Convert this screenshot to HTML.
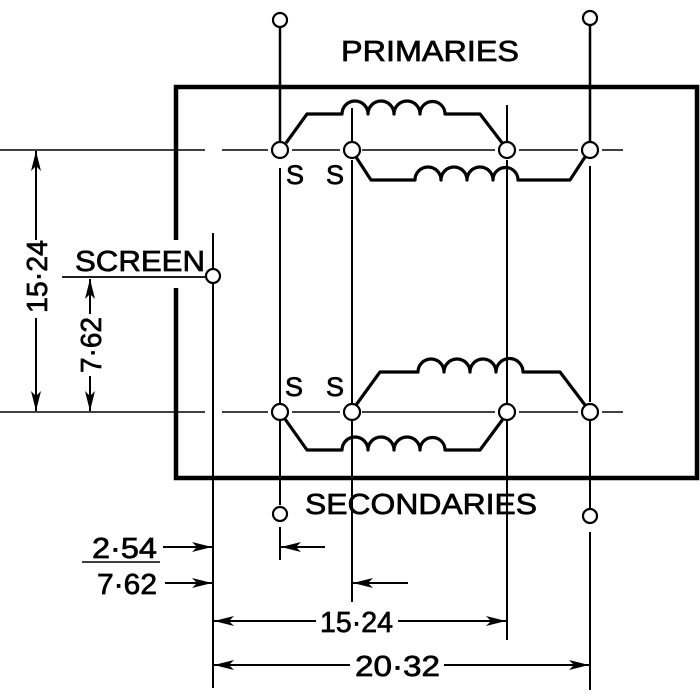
<!DOCTYPE html>
<html><head><meta charset="utf-8"><style>
html,body{margin:0;padding:0;background:#fff}
svg{display:block}
text{font-family:"Liberation Sans",Arial,sans-serif;fill:#000;stroke:#000;stroke-width:0.7}
</style></head><body>
<svg width="700" height="700" viewBox="0 0 700 700" xmlns="http://www.w3.org/2000/svg">
<defs>
<marker id="ar" viewBox="0 0 20 10" refX="20" refY="5" markerWidth="20" markerHeight="10" markerUnits="userSpaceOnUse" orient="auto">
<path d="M0,0 L20,5 L0,10 L5,5 Z" fill="#000"/></marker>
</defs>
<g stroke="#000" fill="none">
<path d="M176,240 V87 H697 V478 H176 V288" stroke-width="4.5"/>
<path d="M0,150 H205 M222,150 H268 M292,150 H340 M362,150 H495 M519,150 H578 M602,150 H623" stroke-width="1.5"/>
<path d="M0,412 H205 M222,412 H268 M292,412 H340 M362,412 H495 M519,412 H578 M602,412 H623" stroke-width="1.5"/>
<path d="M280,28 V142" stroke-width="2.5"/>
<path d="M280,168 V404 M280,420 V505" stroke-width="2"/>
<path d="M280,527 V560" stroke-width="2"/>
<path d="M590,26 V142" stroke-width="2.5"/>
<path d="M590,166 V402 M590,420 V508" stroke-width="2"/>
<path d="M590,532 V690" stroke-width="2"/>
<path d="M352,108 V142 M352,160 V404 M352,420 V602" stroke-width="2"/>
<path d="M507,105 V142 M507,160 V404 M507,420 V640" stroke-width="2"/>
<path d="M213,233 V268 M213,284 V688" stroke-width="2"/>
<g stroke-width="2.2" fill="#fff">
<circle cx="280" cy="20" r="7"/><circle cx="590" cy="18" r="7"/>
<circle cx="280" cy="514" r="7"/><circle cx="590" cy="516" r="7"/>
<circle cx="213" cy="276" r="7"/>
<circle cx="280" cy="150" r="8"/><circle cx="352" cy="150" r="8"/><circle cx="507" cy="150" r="8"/><circle cx="590" cy="150" r="8"/>
<circle cx="280" cy="412" r="8"/><circle cx="352" cy="412" r="8"/><circle cx="507" cy="412" r="8"/><circle cx="590" cy="412" r="8"/>
</g>
<g stroke-width="3.2" stroke-linejoin="round">
<path d="M286,143 L307,114 H342 a13,13 0 0 1 26,0 a13,13 0 0 1 26,0 a13,13 0 0 1 26,0 a12.5,12.5 0 0 1 25,0 H480 L503,144"/>
<path d="M356,157 L371,180 H415 a13,13 0 0 1 26,0 a13,13 0 0 1 26,0 a13,13 0 0 1 26,0 a12.5,12.5 0 0 1 25,0 H570 L585,157"/>
<path d="M356,405 L380,372 H418 a13,13 0 0 1 26,0 a13,13 0 0 1 26,0 a13,13 0 0 1 26,0 a13.5,13.5 0 0 1 27,0 H560 L585,405"/>
<path d="M285,419 L307,450 H342 a13,13 0 0 1 26,0 a13,13 0 0 1 26,0 a13,13 0 0 1 26,0 a12.5,12.5 0 0 1 25,0 H480 L503,419"/>
</g>
<path d="M62,277 H205" stroke-width="1.8"/>
<path d="M36,240 V151" stroke-width="2" marker-end="url(#ar)"/>
<path d="M36,318 V411" stroke-width="2" marker-end="url(#ar)"/>
<path d="M90,314 V279" stroke-width="2" marker-end="url(#ar)"/>
<path d="M90,376 V411" stroke-width="2" marker-end="url(#ar)"/>
<path d="M82,562 H160" stroke-width="1.5"/>
<path d="M163,547 H212" stroke-width="2" marker-end="url(#ar)"/>
<path d="M165,583 H212" stroke-width="2" marker-end="url(#ar)"/>
<path d="M325,547 H281" stroke-width="2" marker-end="url(#ar)"/>
<path d="M408,583 H353" stroke-width="2" marker-end="url(#ar)"/>
<path d="M316,621 H214" stroke-width="2" marker-end="url(#ar)"/>
<path d="M398,621 H506" stroke-width="2" marker-end="url(#ar)"/>
<path d="M350,665 H214" stroke-width="2" marker-end="url(#ar)"/>
<path d="M444,665 H589" stroke-width="2" marker-end="url(#ar)"/>
</g>
<g font-size="29">
<text x="341" y="61" textLength="178" lengthAdjust="spacingAndGlyphs">PRIMARIES</text>
<text x="305" y="514" textLength="232" lengthAdjust="spacingAndGlyphs">SECONDARIES</text>
<text x="286" y="184" font-size="27">S</text><text x="326" y="184" font-size="27">S</text>
<text x="285" y="396" font-size="27">S</text><text x="326" y="396" font-size="27">S</text>
<text x="75" y="271" textLength="130" lengthAdjust="spacingAndGlyphs">SCREEN</text>
<text transform="translate(47,313) rotate(-90)" textLength="73" lengthAdjust="spacingAndGlyphs">15·24</text>
<text transform="translate(101,373) rotate(-90)" textLength="56" lengthAdjust="spacingAndGlyphs">7·62</text>
<text x="92" y="558" textLength="65" lengthAdjust="spacingAndGlyphs">2·54</text>
<text x="97" y="594" textLength="60" lengthAdjust="spacingAndGlyphs">7·62</text>
<text x="320" y="632" textLength="73" lengthAdjust="spacingAndGlyphs">15·24</text>
<text x="355" y="676" textLength="85" lengthAdjust="spacingAndGlyphs">20·32</text>
</g>
</svg>
</body></html>
